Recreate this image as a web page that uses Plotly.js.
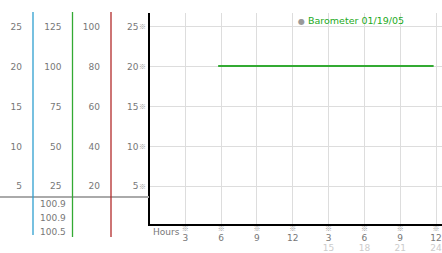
<!DOCTYPE html>
<html><head><meta charset="utf-8">
<script src="https://cdn.plot.ly/plotly-3.0.1.min.js"></script>
<style>body{margin:0;background:#fff}#c{width:442px;height:253px}</style>
</head><body><div id="c"></div>
<script>
// ---- data ----
const hours = [5.75, 8, 10, 12, 14, 16, 18, 20, 22, 23.8];
const pressure = [20.1, 20.1, 20.1, 20.1, 20.1, 20.1, 20.1, 20.1, 20.1, 20.1];
const hourTicks = [3, 6, 9, 12, 15, 18, 21, 24];
const hourLabels = ['3', '6', '9', '12', '3', '6', '9', '12'];
const hourLabels24 = ['', '', '', '', '15', '18', '21', '24'];
const scale1 = [5, 10, 15, 20, 25];
const scale2 = [25, 50, 75, 100, 125];
const scale3 = [20, 40, 60, 80, 100];
const scale4 = [5, 10, 15, 20, 25];
const currentValues = ['100.9', '100.9', '100.5'];
const seriesName = 'Barometer 01/19/05';

// ---- layout helpers ----
const W = 442, H = 253, T = 13, B = 29;
const PH = H - T - B;
const px = v => v / W;
const py = v => (H - B - v) / PH;
const FONT = 'DejaVu Sans';
const MARKFONT = 'Noto Sans CJK JP';
const GREY = '#777';
const yr = [0.25, 26.75];
const xr = [0, 24.5];

const traces = [
  {x: hours, y: pressure, type: 'scatter', mode: 'lines', xaxis: 'x', yaxis: 'y',
   line: {color: '#33aa33', width: 2}, name: seriesName, showlegend: false, hoverinfo: 'skip'},
  {x: [null], y: [null], xaxis: 'x', yaxis: 'y2', showlegend: false, hoverinfo: 'skip'},
  {x: [null], y: [null], xaxis: 'x', yaxis: 'y3', showlegend: false, hoverinfo: 'skip'},
  {x: [null], y: [null], xaxis: 'x', yaxis: 'y4', showlegend: false, hoverinfo: 'skip'},
  {x: [null], y: [null], xaxis: 'x', yaxis: 'y5', showlegend: false, hoverinfo: 'skip'},
  {x: [null], y: [null], xaxis: 'x2', yaxis: 'y', showlegend: false, hoverinfo: 'skip'},
  {x: [null], y: [null], xaxis: 'x3', yaxis: 'y', showlegend: false, hoverinfo: 'skip'}
];

const sideAxis = (vals, factor, pos, standoff) => ({
  overlaying: 'y', anchor: 'free', position: pos, side: 'left',
  range: [yr[0] * factor, yr[1] * factor], autorange: false,
  tickmode: 'array', tickvals: vals, ticktext: vals.map(String),
  showgrid: false, zeroline: false, showline: false, ticks: '',
  ticklabelstandoff: standoff, tickfont: {family: FONT, size: 9, color: GREY}
});

const bottomAxis = (text, standoff, font) => ({
  overlaying: 'x', anchor: 'y', side: 'bottom', range: xr, autorange: false,
  tickmode: 'array', tickvals: hourTicks, ticktext: text,
  showgrid: false, showline: false, zeroline: false, ticks: '',
  ticklabeloverflow: 'allow', ticklabelstandoff: standoff, tickfont: font
});

const layout = {
  width: W, height: H,
  margin: {l: 0, r: 0, t: T, b: B, pad: 0},
  paper_bgcolor: '#fff', plot_bgcolor: '#fff',
  showlegend: false,
  font: {family: FONT, size: 9, color: GREY},
  xaxis: {
    domain: [px(149.5), 1], range: xr, autorange: false,
    tickmode: 'array', tickvals: hourTicks, ticktext: hourLabels,
    showgrid: true, gridcolor: '#dddddd', gridwidth: 1,
    showline: true, linecolor: '#000', linewidth: 2, zeroline: false, ticks: '',
    ticklabeloverflow: 'allow', ticklabelstandoff: 4,
    tickfont: {family: FONT, size: 9, color: GREY}
  },
  xaxis2: bottomAxis(hourTicks.map(() => '\u203B'), -1, {family: MARKFONT, size: 7, color: '#999'}),
  xaxis3: bottomAxis(hourLabels24, 17, {family: FONT, size: 9, color: '#cccccc'}),
  yaxis: {
    domain: [0, 1], range: yr, autorange: false,
    tickmode: 'array', tickvals: scale4, ticktext: scale4.map(() => '\u203B'),
    showgrid: true, gridcolor: '#dddddd', gridwidth: 1,
    showline: true, linecolor: '#000', linewidth: 2, zeroline: false, ticks: '',
    ticklabelstandoff: 0, tickfont: {family: MARKFONT, size: 7, color: '#999'}
  },
  yaxis2: sideAxis(scale1, 1, px(33), 11),
  yaxis3: sideAxis(scale2, 5, px(72.5), 11),
  yaxis4: sideAxis(scale3, 4, px(111), 11),
  yaxis5: sideAxis(scale4, 1, px(149.5), 11),
  shapes: [
    {type: 'line', xref: 'paper', yref: 'paper', x0: 0, x1: px(149), y0: py(197), y1: py(197),
     line: {color: '#aaaaaa', width: 2}},
    {type: 'line', xref: 'paper', yref: 'paper', x0: px(33), x1: px(33), y0: py(12), y1: py(235),
     line: {color: '#2e9fd0', width: 1.3}},
    {type: 'line', xref: 'paper', yref: 'paper', x0: px(72.5), x1: px(72.5), y0: py(12), y1: py(237),
     line: {color: '#33aa33', width: 1.3}},
    {type: 'line', xref: 'paper', yref: 'paper', x0: px(111), x1: px(111), y0: py(12), y1: py(237),
     line: {color: '#b22a2a', width: 1.3}}
  ],
  annotations: [
    ...currentValues.map((v, i) => ({
      xref: 'paper', yref: 'paper', x: px(53), y: py(204 + 14 * i), text: v, showarrow: false,
      xanchor: 'center', yanchor: 'middle', font: {family: FONT, size: 9, color: GREY}
    })),
    {xref: 'paper', yref: 'paper', x: px(166.5), y: py(232), text: 'Hours', showarrow: false,
     xanchor: 'center', yanchor: 'middle', font: {family: FONT, size: 9, color: GREY}},
    {xref: 'paper', yref: 'paper', x: px(296), y: py(20),
     text: '<span style="color:#999;font-size:8px">\u25CF</span> ' + seriesName, showarrow: false,
     xanchor: 'left', yanchor: 'middle', font: {family: FONT, size: 9.5, color: '#22aa22'}}
  ]
};

Plotly.newPlot('c', traces, layout, {staticPlot: true, displayModeBar: false});
</script>
</body></html>
